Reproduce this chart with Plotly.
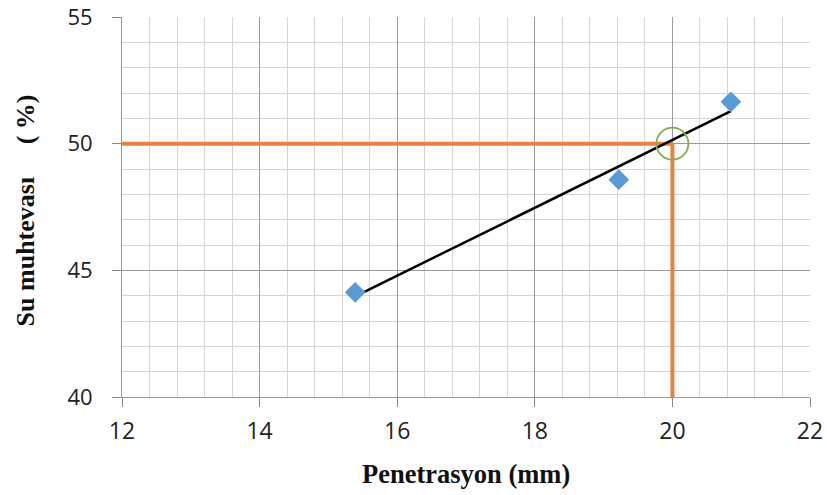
import numpy as np
import plotly.graph_objects as go

# Measured penetration (mm) and water content (%)
penetrasyon = [15.39, 19.22, 20.85]
su_muhtevasi = [44.13, 48.58, 51.65]

# Reading at 20 mm penetration (liquid limit)
ref_pen = 20
ref_su = 50

x_ticks = [12, 14, 16, 18, 20, 22]
y_ticks = [40, 45, 50, 55]

# Linear trendline through the measurements
slope, intercept = np.polyfit(penetrasyon, su_muhtevasi, 1)
trend_x = [min(penetrasyon), max(penetrasyon)]
trend_y = [slope * v + intercept for v in trend_x]

orange = "#E8823F"
nb = "\u00a0"

fig = go.Figure()

# Orange guide lines to the axes
fig.add_trace(go.Scatter(x=[x_ticks[0], ref_pen], y=[ref_su, ref_su], mode="lines",
                         line=dict(color=orange, width=4), hoverinfo="skip"))
fig.add_trace(go.Scatter(x=[ref_pen, ref_pen], y=[ref_su, y_ticks[0]], mode="lines",
                         line=dict(color=orange, width=4), hoverinfo="skip"))

fig.add_trace(go.Scatter(x=trend_x, y=trend_y, mode="lines",
                         line=dict(color="black", width=2.5)))

fig.add_trace(go.Scatter(x=penetrasyon, y=su_muhtevasi, mode="markers",
                         marker=dict(symbol="diamond", size=16, color="#5B9BD5")))

# Circle marking the read-off point
fig.add_trace(go.Scatter(x=[ref_pen], y=[ref_su], mode="markers",
                         marker=dict(symbol="circle-open", size=32,
                                     line=dict(color="#7DAF4F", width=1.8),
                                     color="#7DAF4F")))

fig.update_layout(
    width=827, height=495,
    margin=dict(l=122, r=17, t=17, b=98),
    plot_bgcolor="white", paper_bgcolor="white",
    showlegend=False,
    font=dict(family="Open Sans", size=17, color="#222"),
    annotations=[
        dict(text="<b>Penetrasyon (mm)</b>", xref="paper", yref="paper",
             x=0.5, y=-0.202, xanchor="center", yanchor="middle", showarrow=False,
             font=dict(family="Liberation Serif", size=26.5, color="#111")),
        dict(text="<b>Su muhtevası" + nb * 5 + "( %)</b>", xref="paper", yref="paper",
             x=-0.141, y=0.491, xanchor="center", yanchor="middle", showarrow=False,
             textangle=-90,
             font=dict(family="Liberation Serif", size=26, color="#111")),
    ],
)

fig.update_xaxes(
    range=[12, 22], tickvals=x_ticks, ticks="outside", ticklen=9,
    tickcolor="#888", showline=True, linecolor="#999", linewidth=1,
    showgrid=True, gridcolor="#9a9a9a", gridwidth=1,
    minor=dict(dtick=0.4, tick0=12, showgrid=True, gridcolor="#d4d4d4", gridwidth=1),
    zeroline=False, automargin=False, ticklabelstandoff=4,
    ticklabeloverflow="allow",
    tickfont=dict(family="Open Sans", size=23, color="#222"),
)
fig.update_yaxes(
    range=[40, 55], tickvals=y_ticks, ticks="outside", ticklen=9,
    tickcolor="#888", showline=True, linecolor="#999", linewidth=1,
    showgrid=True, gridcolor="#9a9a9a", gridwidth=1,
    minor=dict(dtick=1, tick0=40, showgrid=True, gridcolor="#d4d4d4", gridwidth=1),
    zeroline=False, automargin=False, ticklabelstandoff=15,
    ticklabeloverflow="allow",
    tickfont=dict(family="Open Sans", size=22, color="#222"),
)

fig.write_html("out.html")
